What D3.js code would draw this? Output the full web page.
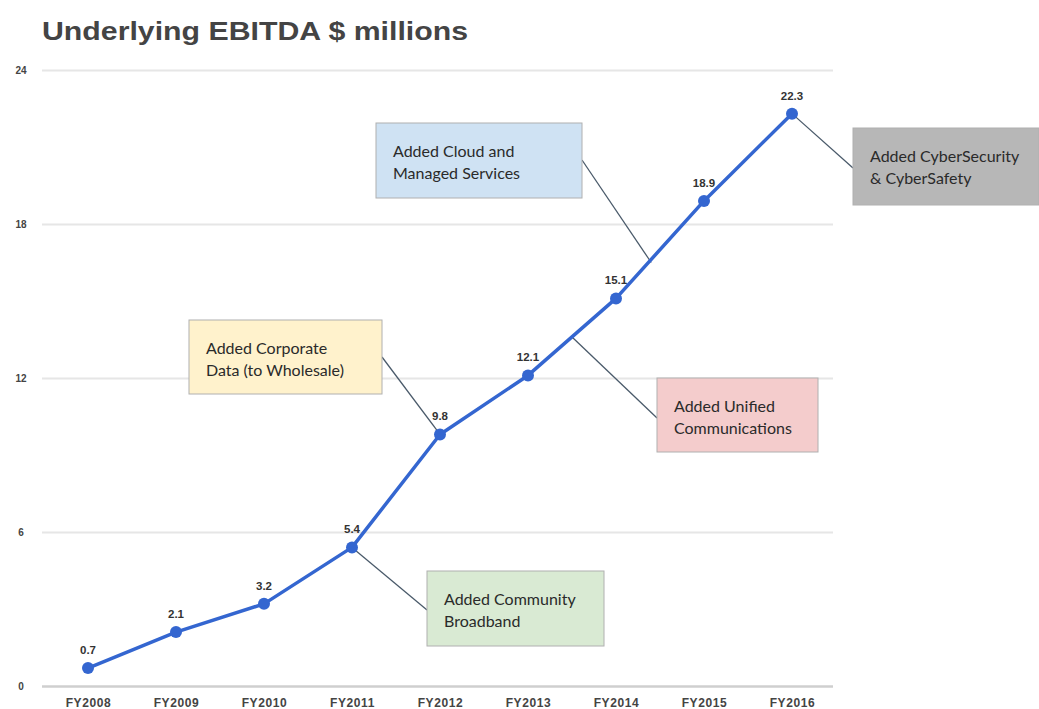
<!DOCTYPE html>
<html><head><meta charset="utf-8">
<script src="https://cdn.jsdelivr.net/npm/d3@7"></script>
<style>body{margin:0;background:#fff}svg{display:block}</style>
</head><body>
<svg id="c" width="1039" height="709"></svg>
<script>
const categories = ["FY2008","FY2009","FY2010","FY2011","FY2012","FY2013","FY2014","FY2015","FY2016"];
const values = [0.7, 2.1, 3.2, 5.4, 9.8, 12.1, 15.1, 18.9, 22.3];
const yTicks = [0, 6, 12, 18, 24];
const annotationTexts = [
  ["Added Cloud and", "Managed Services"],
  ["Added CyberSecurity", "& CyberSafety"],
  ["Added Corporate", "Data (to Wholesale)"],
  ["Added Unified", "Communications"],
  ["Added Community", "Broadband"]
];
const annotationColors = ["#cfe2f3", "#b7b7b7", "#fff2cc", "#f4cccc", "#d9ead3"];
// annotation anchors on the data: [category index (fractional), value]
const annotationAnchors = [[6.4, 16.5], [8, 22.3], [4, 9.8], [5.5, 13.6], [3, 5.4]];
// box layout (pixels)
const boxes = [
  {x:376, y:123, w:206, h:75, lx:582, ly:160},
  {x:853, y:128, w:186, h:77, lx:853, ly:168},
  {x:189, y:320, w:193, h:74, lx:382, ly:357},
  {x:657, y:378, w:161, h:74, lx:657, ly:418},
  {x:427, y:571, w:177, h:75, lx:427, ly:610}
];

const svg = d3.select("#c");
const x = d3.scalePoint().domain(categories).range([44, 836]).padding(0.5);
const y = d3.scaleLinear().domain([0, 24]).range([686, 70]);

svg.append("text").attr("x", 42).attr("y", 40)
  .attr("font-family", "Liberation Sans, Arial, sans-serif").attr("font-weight", "bold")
  .attr("font-size", 26).attr("fill", "#444")
  .attr("textLength", 426).attr("lengthAdjust", "spacingAndGlyphs")
  .text("Underlying EBITDA $ millions");

// grid
const yAxis = d3.axisLeft(y).tickValues(yTicks).tickSize(-791).tickPadding(14).tickFormat(d3.format("d"));
const gy = svg.append("g").attr("transform", "translate(42,0)").call(yAxis);
gy.select(".domain").remove();
gy.selectAll(".tick line").attr("stroke", d => d === 0 ? "#cfcfcf" : "#e6e6e6").attr("stroke-width", d => d===0 ? 2.5 : 2);
gy.selectAll(".tick text").attr("font-family", "Liberation Sans, Arial, sans-serif").attr("font-weight", "bold")
  .attr("font-size", 10).attr("fill", "#444").attr("text-anchor", "middle").attr("x", -21);

const xAxis = d3.axisBottom(x).tickSize(0).tickPadding(10);
const gx = svg.append("g").attr("transform", "translate(0,688)").call(xAxis);
gx.select(".domain").remove();
gx.selectAll(".tick text").attr("font-family", "Liberation Sans, Arial, sans-serif").attr("font-weight", "bold")
  .attr("font-size", 12).attr("letter-spacing", 0.6).attr("fill", "#444");

// annotation connectors
const xi = i => { const f = Math.floor(i), t = i - f; return f >= categories.length-1 ? x(categories[f]) : x(categories[f]) + t * (x(categories[f+1]) - x(categories[f])); };
boxes.forEach((b, i) => {
  svg.append("line").attr("x1", b.lx).attr("y1", b.ly)
    .attr("x2", xi(annotationAnchors[i][0])).attr("y2", y(annotationAnchors[i][1]))
    .attr("stroke", "#4a5a6a").attr("stroke-width", 1.3);
});

// line
svg.append("path").datum(values)
  .attr("d", d3.line().x((d, i) => x(categories[i])).y(d => y(d)))
  .attr("fill", "none").attr("stroke", "#3466d0").attr("stroke-width", 3.5).attr("stroke-linejoin", "round");
svg.selectAll("circle.pt").data(values).join("circle").attr("class", "pt")
  .attr("cx", (d, i) => x(categories[i])).attr("cy", d => y(d)).attr("r", 6).attr("fill", "#3466d0");
svg.selectAll("text.val").data(values).join("text").attr("class", "val")
  .attr("x", (d, i) => x(categories[i])).attr("y", d => y(d) - 14)
  .attr("text-anchor", "middle").attr("font-family", "Liberation Sans, Arial, sans-serif")
  .attr("font-weight", "bold").attr("font-size", 11.5).attr("fill", "#333").text(d => d.toFixed(1));

// boxes
boxes.forEach((b, i) => {
  const g = svg.append("g");
  g.append("rect").attr("x", b.x).attr("y", b.y).attr("width", b.w).attr("height", b.h)
    .attr("fill", annotationColors[i]).attr("stroke", "#b0b0b0").attr("stroke-width", 1);
  annotationTexts[i].forEach((t, j) => {
    g.append("text").attr("x", b.x + 17).attr("y", b.y + 34 + j * 22)
      .attr("font-family", "Lato, Open Sans, sans-serif").attr("font-size", 16).attr("fill", "#2a2a2a").text(t);
  });
});
</script>
</body></html>
